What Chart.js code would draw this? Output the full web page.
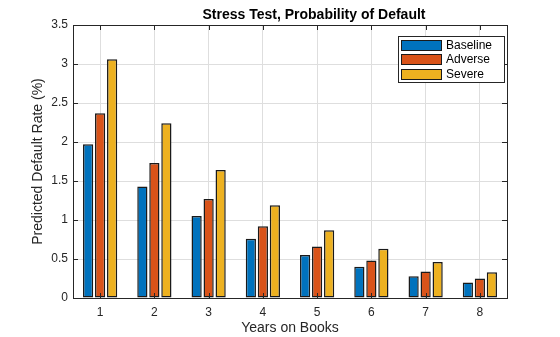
<!DOCTYPE html>
<html>
<head>
<meta charset="utf-8">
<script src="https://cdn.jsdelivr.net/npm/chart.js@4/dist/chart.umd.min.js"></script>
<style>
  html, body { margin: 0; padding: 0; background: #fff; }
  #wrap { width: 560px; height: 337px; position: relative; }
</style>
</head>
<body>
<div id="wrap"><canvas id="c" width="560" height="337"></canvas></div>
<script>
// Predicted default rate (%) by years on books, per stress scenario
const years = ['1', '2', '3', '4', '5', '6', '7', '8'];
const baseline = [1.97, 1.43, 1.05, 0.76, 0.55, 0.40, 0.28, 0.20];
const adverse  = [2.37, 1.73, 1.27, 0.92, 0.66, 0.48, 0.34, 0.25];
const severe   = [3.06, 2.24, 1.64, 1.19, 0.87, 0.63, 0.46, 0.33];
const scenarioNames = ['Baseline', 'Adverse', 'Severe'];
const yTicks = [0, 0.5, 1, 1.5, 2, 2.5, 3, 3.5];

const colors = ['#0072BD', '#D95319', '#EDB120'];
const axisColor = '#262626';
const FONT = '"Liberation Sans", Arial, Helvetica, sans-serif';

// Box around the axes plus inward tick marks on all four sides
const axesBox = {
  id: 'axesBox',
  afterDatasetsDraw(chart) {
    const { ctx, chartArea: a, scales } = chart;
    ctx.save();
    ctx.strokeStyle = axisColor;
    ctx.lineWidth = 1;
    ctx.beginPath();
    const tl = 5;
    yTicks.forEach(v => {
      const y = Math.round(scales.y.getPixelForValue(v)) + 0.5;
      ctx.moveTo(a.left, y); ctx.lineTo(a.left + tl, y);
      ctx.moveTo(a.right, y); ctx.lineTo(a.right - tl, y);
    });
    years.forEach((c, i) => {
      const x = Math.round(scales.x.getPixelForValue(i)) + 0.5;
      ctx.moveTo(x, a.bottom); ctx.lineTo(x, a.bottom - tl);
      ctx.moveTo(x, a.top); ctx.lineTo(x, a.top + tl);
    });
    ctx.stroke();
    ctx.strokeRect(a.left + 0.5, a.top + 0.5, a.right - a.left, a.bottom - a.top);
    ctx.restore();
  }
};

// Title above the axes
const titleText = {
  id: 'titleText',
  afterDraw(chart) {
    const { ctx } = chart;
    ctx.save();
    ctx.fillStyle = '#000';
    ctx.font = 'bold 14px ' + FONT;
    ctx.textAlign = 'center';
    ctx.textBaseline = 'alphabetic';
    ctx.fillText('Stress Test, Probability of Default', 314, 18.5);
    ctx.restore();
  }
};

// Boxed legend in the upper right corner of the axes
const boxLegend = {
  id: 'boxLegend',
  afterDraw(chart) {
    const { ctx, chartArea: a } = chart;
    const bx = a.right - 109, by = a.top + 11, bw = 106, bh = 46;
    ctx.save();
    ctx.fillStyle = '#fff';
    ctx.fillRect(bx, by, bw, bh);
    ctx.strokeStyle = axisColor;
    ctx.lineWidth = 1;
    ctx.strokeRect(bx + 0.5, by + 0.5, bw, bh);
    ctx.font = '12px ' + FONT;
    ctx.textBaseline = 'middle';
    ctx.textAlign = 'left';
    chart.data.datasets.forEach((ds, i) => {
      const sy = Math.round(by + 4 + i * 14.3);
      ctx.fillStyle = ds.backgroundColor;
      ctx.fillRect(bx + 3, sy, 41, 11);
      ctx.strokeStyle = '#1a1a1a';
      ctx.strokeRect(bx + 3.5, sy + 0.5, 40, 10);
      ctx.fillStyle = '#000';
      ctx.fillText(ds.label, bx + 48, sy + 6);
    });
    ctx.restore();
  }
};

const seriesValues = [baseline, adverse, severe];

new Chart(document.getElementById('c'), {
  type: 'bar',
  data: {
    labels: years,
    datasets: seriesValues.map((vals, i) => ({
      label: scenarioNames[i],
      data: vals,
      backgroundColor: colors[i],
      borderColor: '#1a1a1a',
      borderWidth: 1.5,
      borderSkipped: false,
      categoryPercentage: 0.664,
      barPercentage: 0.85
    }))
  },
  options: {
    responsive: false,
    animation: false,
    layout: { padding: { left: 0, right: 53, top: 25, bottom: 0 } },
    plugins: {
      legend: { display: false },
      title: { display: false },
      tooltip: { enabled: false }
    },
    scales: {
      x: {
        offset: true,
        grid: { offset: false, color: '#dedede', lineWidth: 1, drawTicks: false },
        border: { display: false },
        ticks: { color: axisColor, font: { family: FONT, size: 12 }, padding: 7, maxRotation: 0 },
        title: {
          display: true, text: 'Years on Books', color: axisColor,
          font: { family: FONT, size: 14 }, padding: { top: 0, bottom: 0 }
        },
        afterFit(s) { s.height = 39; }
      },
      y: {
        min: 0, max: 3.5,
        afterBuildTicks(s) { s.ticks = yTicks.map(v => ({ value: v })); },
        grid: { color: '#dedede', lineWidth: 1, drawTicks: false },
        border: { display: false },
        ticks: {
          color: axisColor, font: { family: FONT, size: 12 }, padding: 5,
          callback: v => String(v)
        },
        title: {
          display: true, text: 'Predicted Default Rate (%)', color: axisColor,
          font: { family: FONT, size: 14 }, padding: { top: 30, bottom: 0 }
        },
        afterFit(s) { s.width = 73; }
      }
    }
  },
  plugins: [axesBox, titleText, boxLegend]
});
</script>
</body>
</html>
